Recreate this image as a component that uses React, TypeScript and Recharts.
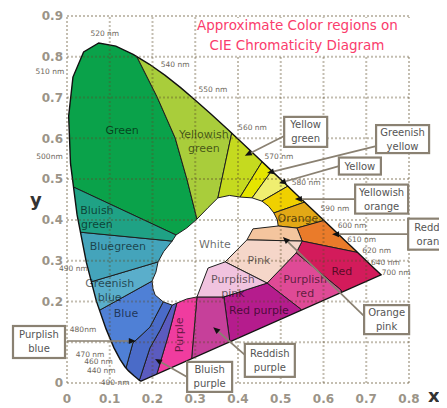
import React from "react";
import { ScatterChart, Scatter, XAxis, YAxis } from "recharts";

type Pt = [number, number];

// CIE 1931 spectral locus
const locusNm = [400, 410, 420, 430, 440, 450, 460, 465, 470, 475, 480, 485, 490, 495, 500, 505, 510, 515, 520, 525, 530, 535, 540, 545, 550, 555, 560, 565, 570, 575, 580, 585, 590, 595, 600, 605, 610, 620, 630, 640, 650, 700];
const locusX = [0.1733, 0.1726, 0.1714, 0.1689, 0.1644, 0.1566, 0.144, 0.1355, 0.1241, 0.1096, 0.0913, 0.0687, 0.0454, 0.0235, 0.0082, 0.0039, 0.0139, 0.0389, 0.0743, 0.1142, 0.1547, 0.1929, 0.2296, 0.2658, 0.3016, 0.3373, 0.3731, 0.4087, 0.4441, 0.4788, 0.5125, 0.5448, 0.5752, 0.6029, 0.627, 0.6482, 0.6658, 0.6915, 0.7079, 0.719, 0.726, 0.7347];
const locusY = [0.0048, 0.0048, 0.0051, 0.0069, 0.0109, 0.0177, 0.0297, 0.0399, 0.0578, 0.0868, 0.1327, 0.2007, 0.295, 0.4127, 0.5384, 0.6548, 0.7502, 0.812, 0.8338, 0.8262, 0.8059, 0.7816, 0.7543, 0.7243, 0.6923, 0.6589, 0.6245, 0.5896, 0.5547, 0.5202, 0.4866, 0.4544, 0.4242, 0.3965, 0.3725, 0.3514, 0.334, 0.3083, 0.292, 0.2809, 0.274, 0.2653];

const nmLabelled = [400, 440, 460, 470, 480, 490, 500, 510, 520, 540, 550, 560, 570, 580, 590, 600, 610, 620, 640, 700];
const nmText = ["400 nm", "440 nm", "460 nm", "470 nm", "480nm", "490 nm", "500nm", "510 nm", "520 nm", "540 nm", "550 nm", "560 nm", "570 nm", "580 nm", "590 nm", "600 nm", "610 nm", "620 nm", "640 nm", "700 nm"];

const xTicks = [0, 0.1, 0.2, 0.3, 0.4, 0.5, 0.6, 0.7, 0.8];
const yTicks = [0, 0.1, 0.2, 0.3, 0.4, 0.5, 0.6, 0.7, 0.8, 0.9];

// colour regions (x, y vertices; outer ones fall outside the locus and are clipped)
const greenPts: Pt[] = [[0, 0.488], [0, 0.9], [0.117, 0.9], [0.164, 0.799], [0.211, 0.701], [0.253, 0.601], [0.281, 0.498], [0.304, 0.402], [0.28, 0.38], [0.255, 0.363]];
const yellowishGreenPts: Pt[] = [[0.117, 0.9], [0.405, 0.9], [0.4, 0.689], [0.386, 0.616], [0.353, 0.454], [0.33, 0.43], [0.304, 0.402], [0.281, 0.498], [0.253, 0.601], [0.211, 0.701], [0.164, 0.799]];
const yellowGreenPts: Pt[] = [[0.353, 0.454], [0.386, 0.616], [0.4, 0.689], [0.494, 0.603], [0.456, 0.542], [0.405, 0.456], [0.38, 0.46]];
const greenishYellowPts: Pt[] = [[0.405, 0.456], [0.456, 0.542], [0.494, 0.603], [0.519, 0.581], [0.48, 0.522], [0.433, 0.454]];
const yellowPts: Pt[] = [[0.433, 0.454], [0.48, 0.522], [0.519, 0.581], [0.578, 0.52], [0.517, 0.483], [0.456, 0.446]];
const yellowishOrangePts: Pt[] = [[0.456, 0.446], [0.517, 0.483], [0.578, 0.52], [0.622, 0.468], [0.557, 0.444], [0.484, 0.417], [0.472, 0.433]];
const orangePts: Pt[] = [[0.484, 0.417], [0.557, 0.444], [0.622, 0.468], [0.674, 0.419], [0.606, 0.4], [0.538, 0.38], [0.494, 0.385], [0.492, 0.4]];
const reddishOrangePts: Pt[] = [[0.538, 0.38], [0.606, 0.4], [0.674, 0.419], [0.753, 0.304], [0.685, 0.319], [0.55, 0.348]];
const redPts: Pt[] = [[0.55, 0.348], [0.685, 0.319], [0.753, 0.304], [0.8, 0.253], [0.8, 0.204], [0.65, 0.13], [0.641, 0.228], [0.536, 0.319]];
const purplishRedPts: Pt[] = [[0.468, 0.245], [0.536, 0.319], [0.641, 0.228], [0.65, 0.13], [0.559, 0], [0.547, 0.181]];
const redPurplePts: Pt[] = [[0.367, 0.211], [0.468, 0.245], [0.547, 0.181], [0.559, 0], [0.391, 0], [0.381, 0.101]];
const reddishPurplePts: Pt[] = [[0.304, 0.211], [0.367, 0.211], [0.381, 0.101], [0.391, 0], [0.288, 0], [0.292, 0.066]];
const purplePts: Pt[] = [[0.257, 0.196], [0.28, 0.206], [0.304, 0.211], [0.292, 0.066], [0.288, 0], [0.208, 0], [0.211, 0.025], [0.236, 0.113]];
const bluishPurplePts: Pt[] = [[0.246, 0.191], [0.257, 0.196], [0.236, 0.113], [0.211, 0.025], [0.208, 0], [0.166, 0], [0.171, 0.012], [0.194, 0.086], [0.218, 0.13]];
const purplishBluePts: Pt[] = [[0.225, 0.199], [0.194, 0.137], [0.154, 0.098], [0.138, 0.037], [0.129, 0], [0.166, 0], [0.171, 0.012], [0.194, 0.086], [0.218, 0.13], [0.246, 0.191]];
const bluePts: Pt[] = [[0, 0.132], [0.077, 0.179], [0.199, 0.25], [0.201, 0.232], [0.206, 0.216], [0.225, 0.199], [0.194, 0.137], [0.154, 0.098], [0.138, 0.037], [0.129, 0], [0, 0]];
const greenishBluePts: Pt[] = [[0, 0.231], [0.056, 0.248], [0.213, 0.297], [0.208, 0.272], [0.199, 0.25], [0.077, 0.179], [0, 0.132]];
const bluegreenPts: Pt[] = [[0, 0.373], [0.246, 0.348], [0.226, 0.322], [0.213, 0.297], [0.056, 0.248], [0, 0.231]];
const bluishGreenPts: Pt[] = [[0, 0.488], [0.255, 0.363], [0.246, 0.348], [0, 0.373]];
const orangePinkPts: Pt[] = [[0.421, 0.351], [0.435, 0.378], [0.494, 0.385], [0.538, 0.38], [0.55, 0.348]];
const pinkPts: Pt[] = [[0.37, 0.297], [0.421, 0.351], [0.55, 0.348], [0.536, 0.319], [0.468, 0.245]];
const purplishPinkPts: Pt[] = [[0.304, 0.211], [0.33, 0.282], [0.37, 0.297], [0.468, 0.245], [0.367, 0.211]];

// region names written inside the diagram
const regionLabelLines = [["Green"], ["Yellowish", "green"], ["Bluish", "green"], ["Bluegreen"], ["Greenish", "blue"], ["Blue"], ["White"], ["Pink"], ["Purplish", "pink"], ["Red purple"], ["Purplish", "red"], ["Red"], ["Orange"], ["Purple"]];
const regionLabelPos: Pt[] = [[0.129, 0.62], [0.32, 0.593], [0.07, 0.407], [0.119, 0.336], [0.1, 0.229], [0.138, 0.172], [0.346, 0.341], [0.449, 0.302], [0.388, 0.239], [0.449, 0.179], [0.557, 0.237], [0.643, 0.275], [0.54, 0.405], [0.262, 0.118]];

// boxed callouts: arrow tip and the point where the leader meets the box
const calloutLines = [["Yellow", "green"], ["Greenish", "yellow"], ["Yellow"], ["Yellowish", "orange"], ["Reddish", "orange"], ["Orange", "pink"], ["Reddish", "purple"], ["Bluish", "purple"], ["Purplish", "blue"]];
const calloutTip: Pt[] = [[0.416, 0.557], [0.468, 0.515], [0.496, 0.49], [0.533, 0.451], [0.62, 0.365], [0.505, 0.358], [0.342, 0.137], [0.206, 0.059], [0.161, 0.103]];
const calloutJoin: Pt[] = [[0.508, 0.606], [0.723, 0.581], [0.636, 0.532], [0.674, 0.451], [0.798, 0.365], [0.695, 0.164], [0.416, 0.069], [0.281, 0.015], [0, 0.103]];

// ---- styles ----
const GRID = "rgba(92,74,40,0.36)";
const LEAD = "#8a8172";
const regionStyle: Record<string, string> = {
  green: "#0aa24a", yellowishGreen: "#a9cd3b", yellowGreen: "#c5da1f", greenishYellow: "#e5e500",
  yellow: "#efee70", yellowishOrange: "#f0d000", orange: "#e3a816", reddishOrange: "#ea7b2a",
  red: "#d31b5b", purplishRed: "#df4a96", redPurple: "#b51c8d", reddishPurple: "#c6409a",
  purple: "#f03c9f", bluishPurple: "#5b5bbf", purplishBlue: "#4a6bc8", blue: "#4f80d6",
  greenishBlue: "#5aaecb", bluegreen: "#44a4bb", bluishGreen: "#1fa285",
  orangePink: "#f4c59e", pink: "#f5d6c9", purplishPink: "#f1c3df",
};
// pixel offsets of wavelength labels from their locus point
const nmOffset: Record<number, Pt> = {
  400: [-26, 1], 440: [-36, -8], 460: [-30, -9], 470: [-30, -5], 480: [-23, 1], 490: [-13, 6],
  500: [-21, -7], 510: [-23, -6], 520: [6, -9], 540: [10, -11], 550: [17, -11], 560: [26, -1],
  570: [22, 0], 580: [20, -2], 590: [22, -2], 600: [17, -6], 610: [10, -7], 620: [14, -7],
  640: [11, -6], 700: [15, -2],
};
// box centre offset from join point, and box size (px)
const calloutBox = [
  { dx: 21.5, dy: -4, w: 43, h: 30 }, { dx: 26.5, dy: -7, w: 53, h: 28 }, { dx: 21, dy: 0, w: 42, h: 17 },
  { dx: 26.5, dy: 0, w: 53, h: 29 }, { dx: 26, dy: 0, w: 52, h: 31 }, { dx: 22.5, dy: 3.5, w: 45, h: 29 },
  { dx: 25, dy: 5.5, w: 50, h: 33 }, { dx: 22.5, dy: 0, w: 45, h: 30 }, { dx: -28, dy: 1, w: 52, h: 32 },
];

const regions = [
  { key: "green", pts: greenPts }, { key: "yellowishGreen", pts: yellowishGreenPts },
  { key: "yellowGreen", pts: yellowGreenPts }, { key: "greenishYellow", pts: greenishYellowPts },
  { key: "yellow", pts: yellowPts }, { key: "yellowishOrange", pts: yellowishOrangePts },
  { key: "orange", pts: orangePts }, { key: "reddishOrange", pts: reddishOrangePts },
  { key: "red", pts: redPts }, { key: "purplishRed", pts: purplishRedPts },
  { key: "redPurple", pts: redPurplePts }, { key: "reddishPurple", pts: reddishPurplePts },
  { key: "purple", pts: purplePts }, { key: "bluishPurple", pts: bluishPurplePts },
  { key: "purplishBlue", pts: purplishBluePts }, { key: "blue", pts: bluePts },
  { key: "greenishBlue", pts: greenishBluePts }, { key: "bluegreen", pts: bluegreenPts },
  { key: "bluishGreen", pts: bluishGreenPts }, { key: "orangePink", pts: orangePinkPts },
  { key: "pink", pts: pinkPts }, { key: "purplishPink", pts: purplishPinkPts },
];

const locusRows = locusNm.map((nm, i) => ({ nm, x: locusX[i], y: locusY[i] }));
const nmRows = nmLabelled.map((nm, i) => {
  const k = locusNm.indexOf(nm);
  return { nm, text: nmText[i], x: locusX[k], y: locusY[k] };
});
const labelRows = regionLabelLines.map((lines, i) => ({ x: regionLabelPos[i][0], y: regionLabelPos[i][1], lines, rotate: lines[0] === "Purple" }));
const rows = (pts: Pt[]) => pts.map(([x, y]) => ({ x, y }));
const poly = (pts: { x: number; y: number }[]) => pts.map((p) => `${p.x},${p.y}`).join(" ");

const Empty = () => <g />;

function RegionText({ cx, cy, payload }: any) {
  const lines: string[] = payload.lines;
  const lh = 14;
  const y0 = cy - ((lines.length - 1) * lh) / 2 + 4;
  return (
    <text x={cx} y={y0} textAnchor="middle" fontSize={11} fill="#000" fillOpacity={0.6}
      transform={payload.rotate ? `rotate(-90 ${cx} ${cy})` : undefined}>
      {lines.map((l, i) => (
        <tspan key={i} x={cx} y={y0 + i * lh}>{l}</tspan>
      ))}
    </text>
  );
}

function NmText({ cx, cy, payload }: any) {
  const [dx, dy] = nmOffset[payload.nm];
  return (
    <text x={cx + dx} y={cy + dy + 2.5} textAnchor="middle" fontSize={7.5} fill="#6e675c">{payload.text}</text>
  );
}

function Callout({ points, idx }: any) {
  const [t, j] = points;
  const b = calloutBox[idx];
  const lines = calloutLines[idx];
  const a = Math.atan2(t.y - j.y, t.x - j.x);
  const L = 7, W = 3;
  const bx = t.x - L * Math.cos(a), by = t.y - L * Math.sin(a);
  const head = `${t.x},${t.y} ${bx + W * Math.sin(a)},${by - W * Math.cos(a)} ${bx - W * Math.sin(a)},${by + W * Math.cos(a)}`;
  const cx = j.x + b.dx, cy = j.y + b.dy;
  const lh = 14;
  const y0 = cy - ((lines.length - 1) * lh) / 2 + 3.5;
  return (
    <g>
      <line x1={j.x} y1={j.y} x2={bx} y2={by} stroke={LEAD} strokeWidth={1.7} />
      <polygon points={head} fill="#111" />
      <rect x={cx - b.w / 2} y={cy - b.h / 2} width={b.w} height={b.h} fill="#fff" stroke={LEAD} strokeWidth={2.2} />
      <text x={cx} y={y0} textAnchor="middle" fontSize={10} fill="#555">
        {lines.map((l: string, i: number) => (
          <tspan key={i} x={cx} y={y0 + i * lh}>{l}</tspan>
        ))}
      </text>
    </g>
  );
}

export default function App() {
  return (
    <div style={{ position: "relative", width: 439, height: 400, fontFamily: '"DejaVu Sans", sans-serif' }}>
      <ScatterChart width={439} height={400} margin={{ top: 8, right: 38, bottom: 0, left: 0 }}>
        <XAxis type="number" dataKey="x" domain={[0, 0.8]} ticks={xTicks} height={25}
          axisLine={false} tickLine={false} tickSize={6} tickMargin={5} interval={0}
          tick={{ fill: "#9b9488", fontSize: 12, fontWeight: 700 }}
          tickFormatter={(v) => (v === 0 ? "0" : Number(v).toFixed(1))}
          label={{ value: "x", position: "right", offset: 19, fill: "#333", fontSize: 18, fontWeight: 700 }} />
        <YAxis type="number" dataKey="y" domain={[0, 0.9]} ticks={yTicks} width={59}
          axisLine={false} tickLine={false} tickSize={2} tickMargin={2} interval={0}
          tick={{ fill: "#9b9488", fontSize: 12, fontWeight: 700 }}
          tickFormatter={(v) => (v === 0 ? "0" : v === 0.1 ? "" : Number(v).toFixed(1))}
          label={{ value: "y", position: "insideLeft", offset: 22, fill: "#333", fontSize: 18, fontWeight: 700 }} />

        <Scatter data={locusRows} isAnimationActive={false} shape={Empty}
          line={(p: any) => (
            <g>
              <defs>
                <clipPath id="locus-clip">
                  <polygon points={poly(p.points)} />
                </clipPath>
              </defs>
              <polygon points={poly(p.points)} fill="#fff" stroke="none" />
            </g>
          )} />

        {regions.map((r) => (
          <Scatter key={r.key} data={rows(r.pts)} isAnimationActive={false} shape={Empty}
            line={(p: any) => (
              <polygon points={poly(p.points)} fill={regionStyle[r.key]} stroke="#1e1e1e" strokeWidth={1}
                strokeLinejoin="round" clipPath="url(#locus-clip)" />
            )} />
        ))}

        <Scatter data={locusRows} isAnimationActive={false} shape={Empty}
          line={(p: any) => <polygon points={poly(p.points)} fill="none" stroke="#111" strokeWidth={1.4} />} />

        {xTicks.map((v) => (
          <Scatter key={`gx${v}`} data={[{ x: v, y: 0 }, { x: v, y: 0.9 }]} isAnimationActive={false} shape={Empty}
            line={{ stroke: GRID, strokeWidth: 2, strokeDasharray: "2 2" }} />
        ))}
        {yTicks.map((v) => (
          <Scatter key={`gy${v}`} data={[{ x: 0, y: v }, { x: 0.8, y: v }]} isAnimationActive={false} shape={Empty}
            line={{ stroke: GRID, strokeWidth: 2, strokeDasharray: "2 2" }} />
        ))}

        <Scatter data={labelRows} isAnimationActive={false} shape={(p: any) => <RegionText {...p} />} />
        <Scatter data={nmRows} isAnimationActive={false} shape={(p: any) => <NmText {...p} />} />

        {calloutLines.map((_, i) => (
          <Scatter key={`c${i}`} isAnimationActive={false} shape={Empty}
            data={[{ x: calloutTip[i][0], y: calloutTip[i][1] }, { x: calloutJoin[i][0], y: calloutJoin[i][1] }]}
            line={(p: any) => <Callout points={p.points} idx={i} />} />
        ))}
      </ScatterChart>

      <div style={{ position: "absolute", left: 192, top: 10, width: 210, height: 37, background: "#fff" }} />
      <div style={{ position: "absolute", left: 189, top: 7, width: 200, textAlign: "center", color: "#fa3c6c",
        fontSize: 13.5, lineHeight: "20px", whiteSpace: "nowrap" }}>
        <div>Approximate Color regions on</div>
        <div>CIE Chromaticity Diagram</div>
      </div>
    </div>
  );
}
